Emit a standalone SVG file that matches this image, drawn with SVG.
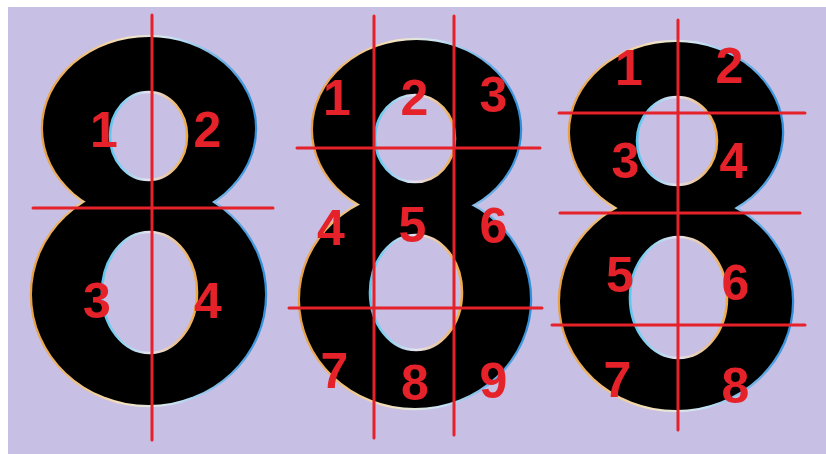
<svg xmlns="http://www.w3.org/2000/svg" width="826" height="454" viewBox="0 0 826 454">
<style>
.ink{fill:#000}
.edge{fill:none;stroke:url(#gOut);stroke-width:4.5}
.hole{fill:#c7bfe4;stroke:url(#gIn);stroke-width:2.6}
.cut{stroke:#e52129;stroke-width:3;stroke-linecap:round}
.lbl{font-family:"Liberation Sans",Arial,sans-serif;font-weight:bold;font-size:50px;fill:#e52129;text-anchor:middle}
</style>
<defs>
<linearGradient id="gOut" x1="0" y1="0" x2="1" y2="0">
<stop offset="0" stop-color="#e9a044"/>
<stop offset="0.4" stop-color="#f3e3c2"/>
<stop offset="0.6" stop-color="#cde5f5"/>
<stop offset="1" stop-color="#2f8fdc"/>
</linearGradient>
<linearGradient id="gIn" x1="0" y1="0" x2="1" y2="0">
<stop offset="0" stop-color="#5cc6f0"/>
<stop offset="0.5" stop-color="#e6e2ef"/>
<stop offset="1" stop-color="#eeaa48"/>
</linearGradient>
</defs>
<rect x="0" y="0" width="826" height="454" fill="#fff"/>
<rect x="8" y="7" width="818" height="447" fill="#c7bfe4"/>

<g id="digitA">
<ellipse class="edge" cx="149" cy="128.5" rx="106" ry="91.5"/>
<ellipse class="edge" cx="148.5" cy="294.6" rx="116.5" ry="110.4"/>
<ellipse class="ink" cx="149" cy="128.5" rx="106" ry="91.5"/>
<ellipse class="ink" cx="148.5" cy="294.6" rx="116.5" ry="110.4"/>
<ellipse class="hole" cx="148.5" cy="136" rx="38.5" ry="44"/>
<ellipse class="hole" cx="149.5" cy="292.5" rx="47.5" ry="60.5"/>
</g>

<g id="digitB">
<ellipse class="edge" cx="416.5" cy="129.6" rx="103.5" ry="89.6"/>
<ellipse class="edge" cx="415" cy="299.6" rx="115" ry="108.4"/>
<ellipse class="ink" cx="416.5" cy="129.6" rx="103.5" ry="89.6"/>
<ellipse class="ink" cx="415" cy="299.6" rx="115" ry="108.4"/>
<ellipse class="hole" cx="415" cy="138.5" rx="40" ry="43.5"/>
<ellipse class="hole" cx="416" cy="292.5" rx="46" ry="57.5"/>
</g>

<g id="digitC">
<ellipse class="edge" cx="676" cy="132.5" rx="106" ry="90.5"/>
<ellipse class="edge" cx="676" cy="301.6" rx="116" ry="108.4"/>
<ellipse class="ink" cx="676" cy="132.5" rx="106" ry="90.5"/>
<ellipse class="ink" cx="676" cy="301.6" rx="116" ry="108.4"/>
<ellipse class="hole" cx="677" cy="141" rx="40" ry="44"/>
<ellipse class="hole" cx="678.5" cy="297.5" rx="48.5" ry="60.5"/>
</g>

<g id="connectors">
<line class="cut" x1="152" y1="15" x2="152" y2="440"/>
<line class="cut" x1="33" y1="208" x2="273" y2="208"/>
<line class="cut" x1="374" y1="16" x2="374" y2="438"/>
<line class="cut" x1="454" y1="16" x2="454" y2="435"/>
<line class="cut" x1="297" y1="148" x2="540" y2="148"/>
<line class="cut" x1="289" y1="308" x2="542" y2="308"/>
<line class="cut" x1="678" y1="20" x2="678" y2="430"/>
<line class="cut" x1="559" y1="113" x2="805" y2="113"/>
<line class="cut" x1="560" y1="213" x2="800" y2="213"/>
<line class="cut" x1="552" y1="325" x2="805" y2="325"/>
</g>

<g id="labelsA">
<text class="lbl" x="104" y="147">1</text>
<text class="lbl" x="207.5" y="147">2</text>
<text class="lbl" x="97" y="318">3</text>
<text class="lbl" x="208" y="318">4</text>
</g>
<g id="labelsB">
<text class="lbl" x="337" y="115">1</text>
<text class="lbl" x="414.5" y="115">2</text>
<text class="lbl" x="493.5" y="112">3</text>
<text class="lbl" x="331" y="245">4</text>
<text class="lbl" x="412.5" y="242">5</text>
<text class="lbl" x="493.5" y="243">6</text>
<text class="lbl" x="334.5" y="388">7</text>
<text class="lbl" x="415" y="400">8</text>
<text class="lbl" x="493.5" y="398">9</text>
</g>
<g id="labelsC">
<text class="lbl" x="629" y="85">1</text>
<text class="lbl" x="729.5" y="83">2</text>
<text class="lbl" x="625.5" y="178">3</text>
<text class="lbl" x="733.5" y="178">4</text>
<text class="lbl" x="620" y="292">5</text>
<text class="lbl" x="735.5" y="300">6</text>
<text class="lbl" x="617.5" y="397">7</text>
<text class="lbl" x="735.5" y="403">8</text>
</g>
</svg>
